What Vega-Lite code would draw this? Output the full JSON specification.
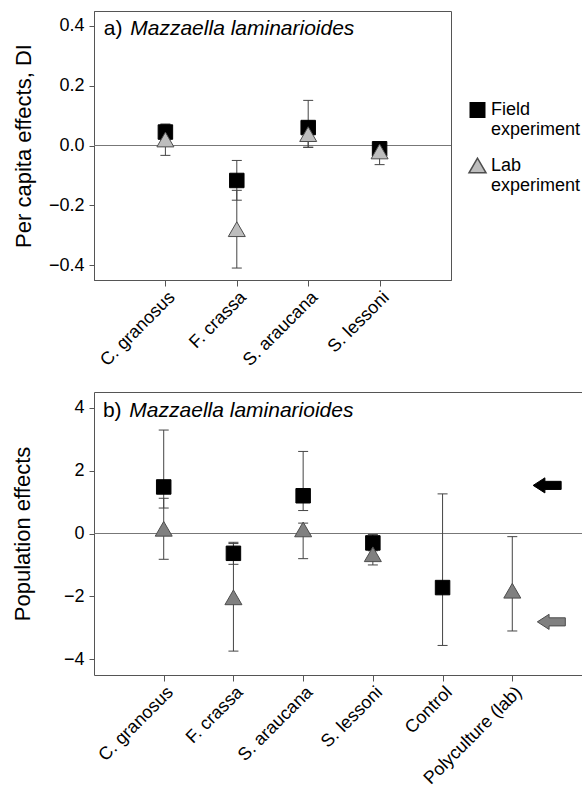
{
  "$schema": "https://vega.github.io/schema/vega-lite/v6.json",
  "padding": {"top": 10, "left": 11, "right": 0, "bottom": 0},
  "background": "white",
  "config": {
    "font": "Liberation Sans",
    "view": {"stroke": null},
    "axis": {"grid": false, "domainColor": "#555", "tickColor": "#555", "labelColor": "black", "titleColor": "black", "labelFont": "Liberation Sans", "titleFont": "Liberation Sans", "titleFontWeight": "normal", "labelFontSize": 18, "titleFontSize": 22},
    "legend": {"labelFont": "Liberation Sans", "labelFontSize": 18}
  },
  "datasets": {
    "panelA": [
      {"species": "C. granosus", "exp": "Field", "mean": 0.045, "lo": 0.018, "hi": 0.072},
      {"species": "F. crassa", "exp": "Field", "mean": -0.117, "lo": -0.183, "hi": -0.05},
      {"species": "S. araucana", "exp": "Field", "mean": 0.06, "lo": -0.006, "hi": 0.151},
      {"species": "S. lessoni", "exp": "Field", "mean": -0.011, "lo": -0.03, "hi": 0.008},
      {"species": "C. granosus", "exp": "Lab", "mean": 0.02, "lo": -0.033, "hi": 0.07},
      {"species": "F. crassa", "exp": "Lab", "mean": -0.28, "lo": -0.41, "hi": -0.15},
      {"species": "S. araucana", "exp": "Lab", "mean": 0.038, "lo": -0.006, "hi": 0.082},
      {"species": "S. lessoni", "exp": "Lab", "mean": -0.02, "lo": -0.064, "hi": 0.01}
    ],
    "panelB": [
      {"species": "C. granosus", "exp": "Field", "mean": 1.48, "lo": 0.81, "hi": 3.29},
      {"species": "F. crassa", "exp": "Field", "mean": -0.63, "lo": -0.98, "hi": -0.28},
      {"species": "S. araucana", "exp": "Field", "mean": 1.2, "lo": 0.73, "hi": 2.61},
      {"species": "S. lessoni", "exp": "Field", "mean": -0.3, "lo": -0.55, "hi": -0.03},
      {"species": "Control", "exp": "Field", "mean": -1.72, "lo": -3.56, "hi": 1.26},
      {"species": "C. granosus", "exp": "Lab", "mean": 0.15, "lo": -0.82, "hi": 1.12},
      {"species": "F. crassa", "exp": "Lab", "mean": -2.03, "lo": -3.74, "hi": -0.32},
      {"species": "S. araucana", "exp": "Lab", "mean": 0.13, "lo": -0.8, "hi": 0.33},
      {"species": "S. lessoni", "exp": "Lab", "mean": -0.66, "lo": -1.0, "hi": -0.35},
      {"species": "Polyculture (lab)", "exp": "Lab", "mean": -1.82, "lo": -3.1, "hi": -0.1}
    ],
    "arrows": [
      {"exp": "Field", "pos": 6.5, "value": 1.53},
      {"exp": "Lab", "pos": 6.56, "value": -2.81}
    ]
  },
  "vconcat": [
    {
      "width": 357,
      "height": 269,
      "view": {"stroke": "#555"},
      "layer": [
        {
          "data": {"name": "panelA"},
          "encoding": {
            "x": {"field": "species", "type": "nominal", "sort": null,
                  "scale": {"type": "point", "padding": 1, "domain": ["C. granosus", "F. crassa", "S. araucana", "S. lessoni"]},
                  "axis": {"title": null, "labelAngle": -45, "tickSize": 6, "labelPadding": 2, "domain": true}},
            "y": {"field": "mean", "type": "quantitative",
                  "scale": {"domain": [-0.45, 0.45], "nice": false, "zero": false},
                  "axis": {"title": "Per capita effects, DI", "values": [-0.4, -0.2, 0, 0.2, 0.4], "format": ".1f", "tickSize": 5, "labelPadding": 5, "titlePadding": 13}}
          },
          "layer": [
            {"mark": {"type": "rule", "color": "#777", "strokeWidth": 1}, "encoding": {"x": null, "y": {"datum": 0}}},
            {"mark": {"type": "rule", "color": "#444", "strokeWidth": 1}, "encoding": {"y": {"field": "lo", "type": "quantitative"}, "y2": {"field": "hi"}}},
            {"mark": {"type": "tick", "color": "#444", "size": 10, "thickness": 1, "opacity": 1}, "encoding": {"y": {"field": "lo", "type": "quantitative"}}},
            {"mark": {"type": "tick", "color": "#444", "size": 10, "thickness": 1, "opacity": 1}, "encoding": {"y": {"field": "hi", "type": "quantitative"}}},
            {
              "mark": {"type": "point", "filled": true, "opacity": 1, "strokeWidth": 1},
              "encoding": {
                "shape": {"field": "exp", "type": "nominal", "scale": {"domain": ["Field", "Lab"], "range": ["square", "triangle-up"]},
                          "legend": {"title": null, "orient": "none", "legendX": 374, "legendY": 90, "rowPadding": 16, "labelOffset": 4,
                                     "labelExpr": "[datum.label, 'experiment']",
                                     "encode": {"labels": {"update": {"dy": {"value": 10}}}}}},
                "fill": {"field": "exp", "type": "nominal", "scale": {"domain": ["Field", "Lab"], "range": ["black", "#bdbdbd"]}},
                "stroke": {"field": "exp", "type": "nominal", "scale": {"domain": ["Field", "Lab"], "range": ["black", "#4d4d4d"]}},
                "size": {"field": "exp", "type": "nominal", "scale": {"domain": ["Field", "Lab"], "range": [210, 289]}}
              }
            }
          ]
        },
        {
          "data": {"values": [{}]},
          "encoding": {
            "x": {"type": "quantitative", "scale": {"domain": [0, 5], "nice": false, "zero": false}, "axis": null}
          },
          "layer": [
            {"mark": {"type": "text", "text": "a)", "align": "left", "baseline": "alphabetic", "fontSize": 21, "color": "black"},
             "encoding": {"x": {"datum": 0.136, "type": "quantitative", "scale": {"domain": [0, 5], "nice": false, "zero": false}, "axis": null}, "y": {"datum": 0.369}}},
            {"mark": {"type": "text", "text": "Mazzaella laminarioides", "align": "left", "baseline": "alphabetic", "fontSize": 21, "fontStyle": "italic", "color": "black"},
             "encoding": {"x": {"datum": 0.508, "type": "quantitative"}, "y": {"datum": 0.369}}}
          ]
        }
      ],
      "resolve": {"scale": {"x": "independent"}, "axis": {"x": "independent"}}
    },
    {
      "width": 488,
      "height": 283,
      "layer": [
        {
          "data": {"name": "panelB"},
          "encoding": {
            "x": {"field": "species", "type": "nominal", "sort": null,
                  "scale": {"type": "point", "padding": 1, "domain": ["C. granosus", "F. crassa", "S. araucana", "S. lessoni", "Control", "Polyculture (lab)"]},
                  "axis": {"title": null, "labelAngle": -45, "tickSize": 6, "labelPadding": 2, "domain": true}},
            "y": {"field": "mean", "type": "quantitative",
                  "scale": {"domain": [-4.5, 4.5], "nice": false, "zero": false},
                  "axis": {"title": "Population effects", "values": [-4, -2, 0, 2, 4], "format": "d", "tickSize": 5, "labelPadding": 5, "titlePadding": 29, "domain": true}}
          },
          "layer": [
            {"mark": {"type": "rule", "color": "#777", "strokeWidth": 1}, "encoding": {"x": null, "y": {"datum": 0}}},
            {"mark": {"type": "rule", "color": "#444", "strokeWidth": 1}, "encoding": {"y": {"field": "lo", "type": "quantitative"}, "y2": {"field": "hi"}}},
            {"mark": {"type": "tick", "color": "#444", "size": 10, "thickness": 1, "opacity": 1}, "encoding": {"y": {"field": "lo", "type": "quantitative"}}},
            {"mark": {"type": "tick", "color": "#444", "size": 10, "thickness": 1, "opacity": 1}, "encoding": {"y": {"field": "hi", "type": "quantitative"}}},
            {
              "mark": {"type": "point", "filled": true, "opacity": 1, "strokeWidth": 1},
              "encoding": {
                "shape": {"field": "exp", "type": "nominal", "scale": {"domain": ["Field", "Lab"], "range": ["square", "triangle-up"]}, "legend": null},
                "fill": {"field": "exp", "type": "nominal", "scale": {"domain": ["Field", "Lab"], "range": ["black", "#808080"]}, "legend": null},
                "stroke": {"field": "exp", "type": "nominal", "scale": {"domain": ["Field", "Lab"], "range": ["black", "#4d4d4d"]}, "legend": null},
                "size": {"field": "exp", "type": "nominal", "scale": {"domain": ["Field", "Lab"], "range": [210, 289]}, "legend": null}
              }
            }
          ]
        },
        {
          "encoding": {
            "x": {"type": "quantitative", "scale": {"domain": [0, 7], "nice": false, "zero": false},
                  "axis": {"orient": "top", "labels": false, "ticks": false, "domain": true, "title": null}}
          },
          "layer": [
            {"data": {"name": "arrows"},
             "mark": {"type": "point", "filled": true, "opacity": 1, "strokeWidth": 1, "shape": "M-1,0 L-0.16,-0.54 L-0.16,-0.29 L1,-0.29 L1,0.29 L-0.16,0.29 L-0.16,0.54 Z", "size": 784},
             "encoding": {"x": {"field": "pos", "type": "quantitative", "scale": {"domain": [0, 7], "nice": false, "zero": false}, "axis": {"orient": "top", "labels": false, "ticks": false, "domain": true, "title": null}},
                          "y": {"field": "value", "type": "quantitative"},
                          "fill": {"field": "exp", "type": "nominal", "legend": null},
                          "stroke": {"field": "exp", "type": "nominal", "legend": null}}},
            {"data": {"values": [{}]},
             "mark": {"type": "text", "text": "b)", "align": "left", "baseline": "alphabetic", "fontSize": 21, "color": "black"},
             "encoding": {"x": {"datum": 0.128, "type": "quantitative"}, "y": {"datum": 3.71}}},
            {"data": {"values": [{}]},
             "mark": {"type": "text", "text": "Mazzaella laminarioides", "align": "left", "baseline": "alphabetic", "fontSize": 21, "fontStyle": "italic", "color": "black"},
             "encoding": {"x": {"datum": 0.507, "type": "quantitative"}, "y": {"datum": 3.71}}}
          ]
        }
      ],
      "resolve": {"scale": {"x": "independent"}, "axis": {"x": "independent"}}
    }
  ],
  "spacing": 112,
  "bounds": "flush",
  "resolve": {"scale": {"shape": "independent", "fill": "independent", "stroke": "independent", "size": "independent", "y": "independent", "x": "independent"}}
}
